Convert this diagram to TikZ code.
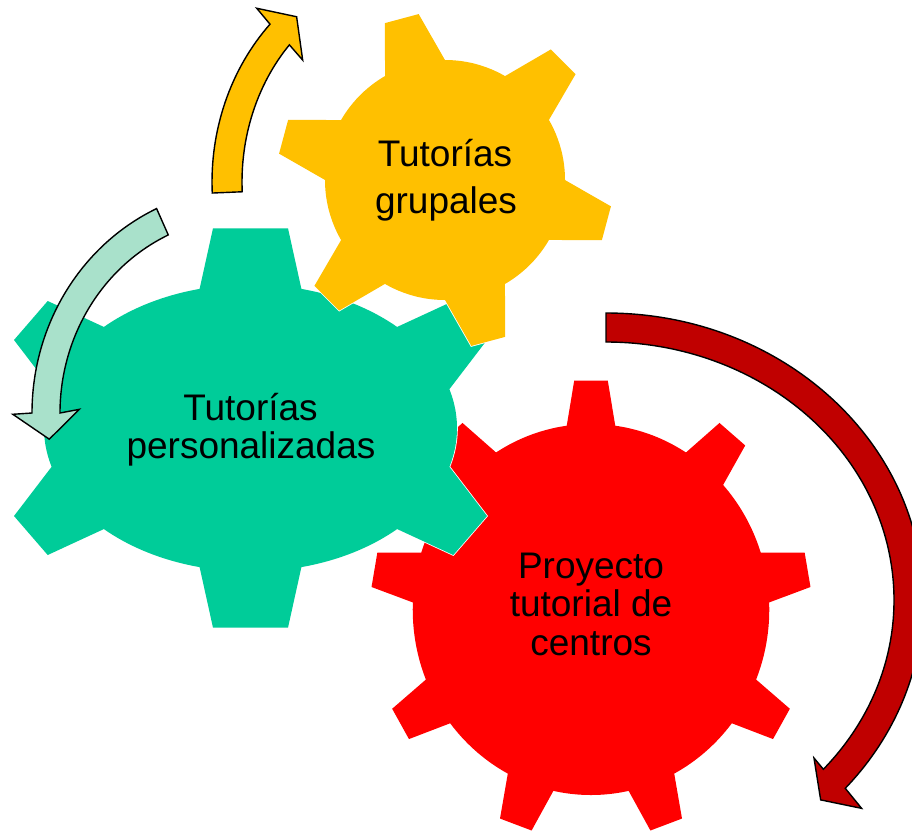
\documentclass[tikz,border=0pt]{standalone}
\usepackage{fontspec}
\setmainfont{Liberation Sans}
\definecolor{gearred}{HTML}{FF0000}
\definecolor{gearyellow}{HTML}{FFC000}
\definecolor{geargreen}{HTML}{00CC99}
\definecolor{arrowred}{HTML}{C00000}
\definecolor{arrowgreen}{HTML}{A9E1CB}
\begin{document}
\begin{tikzpicture}[x=1pt,y=-1pt,
  outl/.style={draw=white, line width=1.6pt},
  redfill/.style={fill=gearred},
  greenfill/.style={fill=geargreen},
  yellowfill/.style={fill=gearyellow},
  arr/.style={draw=black, line width=1.4pt, line join=miter},
  lbl/.style={font=\fontsize{37}{40}\selectfont, inner sep=0pt, anchor=base, text=black}]
\useasboundingbox (0,0) rectangle (912,830);
\clip (0,0) rectangle (912,830);
\fill[white] (0,0) rectangle (912,830);

% ---------- red gear ----------
\begin{scope}[shift={(591,609.5)}, xscale=0.961]
  \path[outl] (0,0) circle[radius=185.5];
  \foreach \a in {-90,-50,...,230}{
    \path[outl] (\a-10.4:162.6) -- (\a-4.37:229.5) -- (\a+4.37:229.5) -- (\a+10.4:162.6) -- cycle;}
  \path[redfill] (0,0) circle[radius=185.5];
  \foreach \a in {-90,-50,...,230}{
    \path[redfill] (\a-10.4:162.6) -- (\a-4.37:229.5) -- (\a+4.37:229.5) -- (\a+10.4:162.6) -- cycle;}
\end{scope}

% ---------- green gear ----------
\begin{scope}[shift={(250.5,428)}]
  \path[outl] (0,0) ellipse[x radius=206.5, y radius=143.5];
  \foreach \sx/\sy in {1/1,1/-1,-1/1,-1/-1}{
    \begin{scope}[xscale=\sx, yscale=\sy]
      \path[outl] (-187.5,23.9) -- (-236.5,88) -- (-202.8,127) -- (-130.5,93.6) -- cycle;
    \end{scope}}
  \foreach \sy in {1,-1}{
    \begin{scope}[yscale=\sy]
      \path[outl] (-58,-107) -- (-37.5,-199.7) -- (37.5,-199.7) -- (58,-107) -- cycle;
    \end{scope}}
  \path[greenfill] (0,0) ellipse[x radius=206.5, y radius=143.5];
  \foreach \sx/\sy in {1/1,1/-1,-1/1,-1/-1}{
    \begin{scope}[xscale=\sx, yscale=\sy]
      \path[greenfill] (-187.5,23.9) -- (-236.5,88) -- (-202.8,127) -- (-130.5,93.6) -- cycle;
    \end{scope}}
  \foreach \sy in {1,-1}{
    \begin{scope}[yscale=\sy]
      \path[greenfill] (-58,-107) -- (-37.5,-199.7) -- (37.5,-199.7) -- (58,-107) -- cycle;
    \end{scope}}
\end{scope}

% ---------- yellow gear ----------
\begin{scope}[shift={(445,180)}]
  \path[outl] (0,0) circle[radius=120];
  \foreach \a in {-165,-105,...,135}{
    \path[outl] (\a-19.4:106) -- (\a-5.98:168) -- (\a+5.98:168) -- (\a+19.4:106) -- cycle;}
  \path[yellowfill] (0,0) circle[radius=120];
  \foreach \a in {-165,-105,...,135}{
    \path[yellowfill] (\a-19.4:106) -- (\a-5.98:168) -- (\a+5.98:168) -- (\a+19.4:106) -- cycle;}
\end{scope}

% ---------- arrows ----------
\begin{scope}[shift={(606,600)}]
  \path[arr, fill=arrowred] (-90:317 and 287)
    arc[start angle=-90, end angle=41, x radius=317, y radius=287]
    -- (42.3:345.6 and 309.6) -- (46.1:309.6 and 277.4) -- (40.3:272.7 and 244.3)
    -- (41:288 and 258)
    arc[start angle=41, end angle=-90, x radius=288, y radius=258] -- cycle;
\end{scope}

\begin{scope}[shift={(246,413)}]
  \path[arr, fill=arrowgreen] (-114.7:214 and 225)
    arc[start angle=-114.7, end angle=-180, x radius=214, y radius=225]
    -- (-180.3:233.2 and 245.8) -- (-187.2:198.3 and 208.9) -- (-178.8:166.7 and 175.6)
    -- (-180:186 and 196)
    arc[start angle=-180, end angle=-114.7, x radius=186, y radius=196] -- cycle;
\end{scope}

\begin{scope}[shift={(416,182)}]
  \path[arr, fill=gearyellow] (177.2:204 and 226)
    arc[start angle=177.2, end angle=224.3, x radius=204, y radius=226]
    -- (223.5:219.6 and 252.4) -- (230.3:186.9 and 214.8) -- (223.1:155.2 and 178.4)
    -- (223.3:174 and 200)
    arc[start angle=223.3, end angle=177.2, x radius=174, y radius=200] -- cycle;
\end{scope}

% ---------- labels ----------
\node[lbl] (y1) at (445,166) {Tutorías};
\node[lbl] (y2) at (446,213.3) {grupales};
\node[lbl] (g1) at (250.5,420) {Tutorías};
\node[lbl] (g2) at (251,458.3) {personalizadas};
\node[lbl] (r1) at (591,578.3) {Proyecto};
\node[lbl] (r2) at (591,616.7) {tutorial de};
\node[lbl] (r3) at (591,655) {centros};
\end{tikzpicture}
\end{document}
